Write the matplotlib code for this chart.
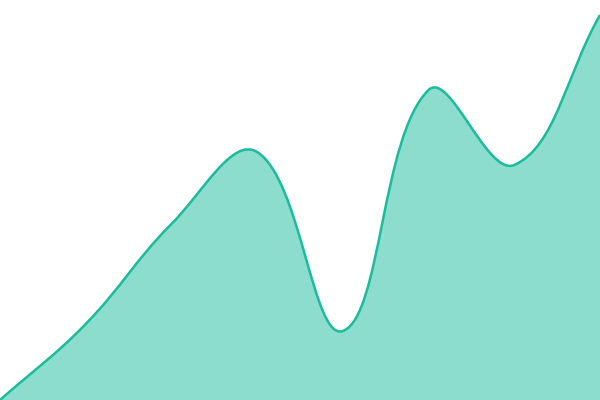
import matplotlib
matplotlib.use("Agg")
import matplotlib.pyplot as plt
import numpy as np
from matplotlib.path import Path
from matplotlib.patches import PathPatch

# data
labels = [0, 1, 2, 3, 4, 5, 6, 7]
values = [0, 76, 176, 248, 69, 310, 235, 385]

line_color = "#1abc9c"
tension = 0.4

fig = plt.figure(figsize=(6, 4), dpi=100)
ax = fig.add_axes([0, 0, 1, 1])
ax.set_xlim(0, 7)
ax.set_ylim(0, 400)
ax.axis("off")

# spline control points like a tension curve (computed in pixel units)
x = np.array(labels, dtype=float)
y = np.array(values, dtype=float)
sx = 600 / 7.0
px = x * sx
n = len(px)
cp_in = []
cp_out = []
for i in range(n):
    p0 = (px[max(i - 1, 0)], y[max(i - 1, 0)])
    p1 = (px[i], y[i])
    p2 = (px[min(i + 1, n - 1)], y[min(i + 1, n - 1)])
    d01 = np.hypot(p1[0] - p0[0], p1[1] - p0[1])
    d12 = np.hypot(p2[0] - p1[0], p2[1] - p1[1])
    s01 = d01 / (d01 + d12) if d01 + d12 > 0 else 0
    s12 = d12 / (d01 + d12) if d01 + d12 > 0 else 0
    fa = tension * s01
    fb = tension * s12
    cin = (p1[0] - fa * (p2[0] - p0[0]), p1[1] - fa * (p2[1] - p0[1]))
    cout = (p1[0] + fb * (p2[0] - p0[0]), p1[1] + fb * (p2[1] - p0[1]))
    cin = (min(max(cin[0], 0), 600) / sx, min(max(cin[1], 0), 400))
    cout = (min(max(cout[0], 0), 600) / sx, min(max(cout[1], 0), 400))
    cp_in.append(cin)
    cp_out.append(cout)

verts = [(x[0], y[0])]
codes = [Path.MOVETO]
for i in range(n - 1):
    verts += [cp_out[i], cp_in[i + 1], (x[i + 1], y[i + 1])]
    codes += [Path.CURVE4] * 3

line_path = Path(verts, codes)
fill_verts = verts + [(x[-1], 0), (x[0], 0), (x[0], y[0])]
fill_codes = codes + [Path.LINETO, Path.LINETO, Path.CLOSEPOLY]
fill_path = Path(fill_verts, fill_codes)

ax.add_patch(PathPatch(fill_path, facecolor=line_color, alpha=0.5, edgecolor="none"))
ax.add_patch(PathPatch(line_path, facecolor="none", edgecolor=line_color, lw=1.8))

fig.savefig("out.png", dpi=100)
